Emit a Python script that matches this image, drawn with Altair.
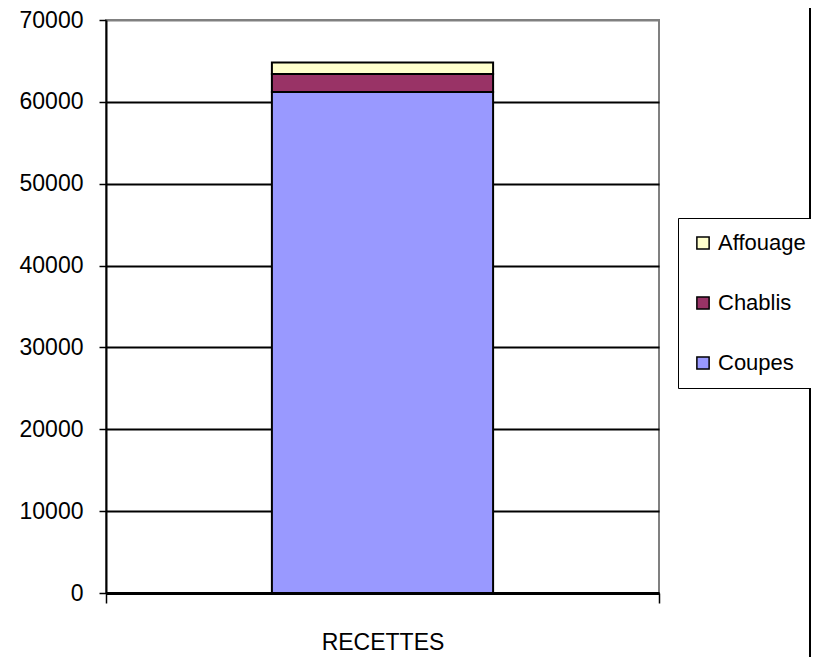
import altair as alt
import pandas as pd

categories = ["RECETTES"]
series = ["Coupes", "Chablis", "Affouage"]
values = [61200, 2200, 1400]
colors = ["#9999FF", "#993366", "#FFFFCC"]
y_ticks = [0, 10000, 20000, 30000, 40000, 50000, 60000, 70000]
legend_order = ["Affouage", "Chablis", "Coupes"]

df = pd.DataFrame({
    "cat": categories * len(series),
    "serie": series,
    "val": values,
    "ordre": list(range(len(series))),
})

FONT = "Liberation Sans, Arial"

bars = alt.Chart(df).mark_bar(
    width={"band": 0.4}, stroke="black", strokeWidth=2
).encode(
    x=alt.X("cat:N", title=None,
            scale=alt.Scale(paddingInner=0, paddingOuter=0),
            axis=alt.Axis(labelAngle=0, labelFontSize=23, labelFont=FONT,
                          labelColor="black", labelPadding=28,
                          tickBand="extent", tickColor="black", tickWidth=1.5,
                          tickSize=10, domainColor="black", domainWidth=3,
                          grid=False)),
    y=alt.Y("val:Q", title=None, stack="zero",
            scale=alt.Scale(domain=[0, 70000], nice=False),
            axis=alt.Axis(values=y_ticks, format="d", labelFontSize=23,
                          labelFont=FONT, labelColor="black", labelPadding=16,
                          tickColor="black", tickSize=7, tickWidth=1.5,
                          domainColor="black", domainWidth=2,
                          gridColor={"condition": {"test": "datum.value >= 70000", "value": "#808080"}, "value": "black"},
                          gridWidth=2)),
    color=alt.Color("serie:N",
                    scale=alt.Scale(domain=legend_order,
                                    range=[colors[series.index(s)] for s in legend_order]),
                    legend=alt.Legend(title=None, orient="none", legendX=572, legendY=198,
                                      symbolType="square", symbolSize=150,
                                      symbolStrokeColor="black", symbolStrokeWidth=1.5,
                                      symbolOpacity=1, symbolOffset=0, labelOffset=4,
                                      labelFontSize=22, labelFont=FONT, labelColor="black",
                                      rowPadding=38, padding=14,
                                      strokeColor="black")),
    order=alt.Order("ordre:Q"),
)

border = alt.Chart(df).mark_rule(color="black", strokeWidth=2, clip=False).encode(
    x=alt.value(704), y=alt.value(-30), y2=alt.value(700)
)

chart = alt.layer(bars, border).properties(
    width=553, height=573,
    autosize=alt.AutoSizeParams(type="none"),
    padding={"left": 98, "top": 12, "right": 152, "bottom": 64},
).configure_view(stroke="#808080", strokeWidth=2).configure_legend(
    fillColor="white"
)

chart.save("out.html", embed_options={"renderer": "svg", "actions": False})
